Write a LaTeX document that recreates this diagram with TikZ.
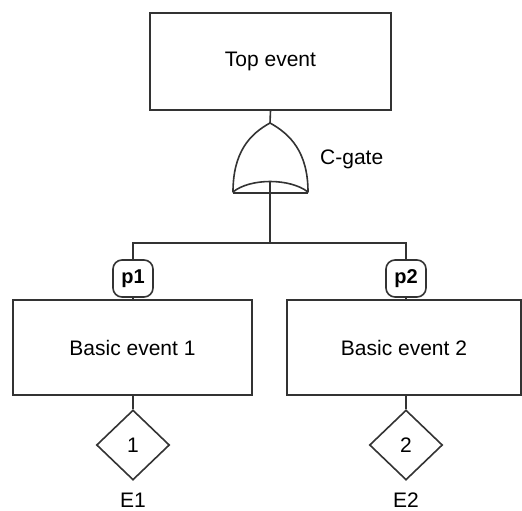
\documentclass[tikz,border=0pt]{standalone}
\usepackage{fontspec}
\setmainfont{Liberation Sans}
\usetikzlibrary{shapes.geometric}
\begin{document}
\begin{tikzpicture}[x=1pt,y=-1pt,
  ln/.style={draw=black!80,line width=1.6pt},
  evbox/.style={ln,rectangle,inner sep=0pt,font=\fontsize{21}{25}\selectfont},
  pbox/.style={ln,rectangle,rounded corners=9pt,minimum width=40pt,minimum height=37pt,inner sep=0pt,font=\bfseries\fontsize{20}{24}\selectfont},
  dia/.style={ln,diamond,inner sep=0pt,minimum width=73pt,minimum height=70pt,font=\fontsize{21}{25}\selectfont},
  lbl/.style={inner sep=0pt,font=\fontsize{21}{25}\selectfont}]
\useasboundingbox (0,0) rectangle (522,511);
\fill[white] (0,0) rectangle (522,511);
% top event
\node[evbox,minimum width=241pt,minimum height=97pt] (top) at (270.5,61.5) {Top event};
% gate
\coordinate (gtip) at (270,123);
\coordinate (gl) at (233,192);
\coordinate (gr) at (308,192);
\coordinate (gin) at (270,182);
\draw[ln,line join=round] (gl) .. controls (233,152) and (250,134) .. (gtip)
   .. controls (290,134) and (308,152) .. (gr)
   .. controls (290,178) and (250,178) .. (gl) -- cycle;
\draw[ln] (233,193) -- (308,193);
\node[lbl,anchor=west] (cg) at (320,159) {C-gate};
\draw[ln] (top.south) -- (gtip);
% junction bar
\coordinate (j) at (270,243);
\coordinate (jl) at (133,243);
\coordinate (jr) at (406,243);
\draw[ln] (gin) -- (j);
\draw[ln,line cap=rect] (jl) -- (jr);
% branches
\node[pbox] (p1) at (133,278.5) {p1};
\node[pbox] (p2) at (406,278.5) {p2};
\node[evbox,minimum width=239pt,minimum height=95pt] (b1) at (132.5,347.5) {Basic event 1};
\node[evbox,minimum width=234pt,minimum height=95pt] (b2) at (404,347.5) {Basic event 2};
\node[dia] (d1) at (133,445) {1};
\node[dia] (d2) at (406,445) {2};
\node[lbl] (e1) at (133,500) {E1};
\node[lbl] (e2) at (406,500) {E2};
\draw[ln] (jl) -- (p1.north);
\draw[ln] (jr) -- (p2.north);
\draw[ln] (p1.south) -- (b1.north -| p1.south);
\draw[ln] (p2.south) -- (b2.north -| p2.south);
\draw[ln] (b1.south -| d1.north) -- (d1.north);
\draw[ln] (b2.south -| d2.north) -- (d2.north);
\end{tikzpicture}
\end{document}
